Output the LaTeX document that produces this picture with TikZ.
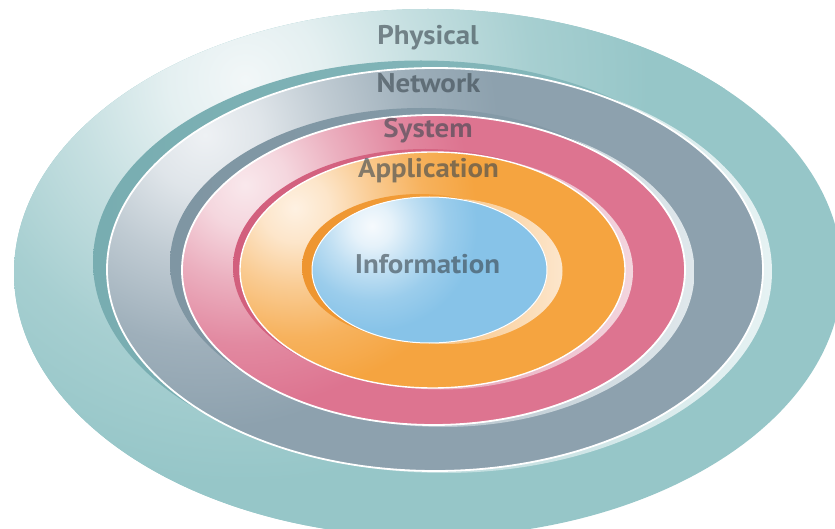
\documentclass[tikz,border=0pt]{standalone}
\usepackage{fontspec}
\setmainfont{PT Sans}
\newfontfamily\labelfont{PT Sans}[FakeStretch=1.07]
\definecolor{physbase}{HTML}{96C6C8}
\definecolor{physhi}{HTML}{F2F7F8}
\definecolor{physdark}{HTML}{78ADB1}
\definecolor{physlight}{HTML}{E6F2F3}
\definecolor{netbase}{HTML}{8DA1AE}
\definecolor{nethi}{HTML}{EEF1F4}
\definecolor{netdark}{HTML}{7F96A3}
\definecolor{netlight}{HTML}{E0E8EC}
\definecolor{sysbase}{HTML}{DD7490}
\definecolor{syshi}{HTML}{F9E8EC}
\definecolor{sysdark}{HTML}{D25F7D}
\definecolor{syslight}{HTML}{F3D6DE}
\definecolor{appbase}{HTML}{F5A440}
\definecolor{apphi}{HTML}{FEF1E2}
\definecolor{appdark}{HTML}{EE9530}
\definecolor{applight}{HTML}{FCE6CC}
\definecolor{infobase}{HTML}{87C3E8}
\definecolor{infohi}{HTML}{F6FAFD}
\definecolor{labelgray}{HTML}{3C4850}
% soft highlight: bright core that falls off into the layer colour
% (the shaded circle's rim sits at 25bp)
\colorlet{hicol}{white}
\colorlet{basecol}{gray}
\pgfdeclareradialshading[hicol,basecol]{glow}{\pgfpoint{0bp}{0bp}}{%
  color(0bp)=(hicol); color(4bp)=(hicol!85!basecol); color(9bp)=(hicol!52!basecol);
  color(15bp)=(hicol!18!basecol); color(21bp)=(basecol); color(50bp)=(basecol)}
\begin{document}
\begin{tikzpicture}[x=1pt, y=-1pt,
  layerlabel/.style={font=\labelfont\fontsize{27}{30}\selectfont\bfseries, text=labelgray,
    text opacity=0.62, anchor=base, inner sep=0pt},
  rim/.style={draw=white, line width=1.8pt}]
\useasboundingbox (0,0) rectangle (835,529);

% ---- Physical: outer disc ----
\fill[physbase] (428,273) ellipse [x radius=414, y radius=264];
\begin{scope}
  \clip (428,273) ellipse [x radius=414, y radius=264];
  \colorlet{hicol}{physhi}\colorlet{basecol}{physbase}
  \shade[shading=glow] (245,80) circle [radius=480];
\end{scope}

% ---- Network disc with its shadow and glow ----
\shade[left color=physbase, right color=physlight] (444,271.5) ellipse [x radius=328, y radius=201.5];
\shade[left color=physdark, right color=physdark!45!physbase] (421,262) ellipse [x radius=328, y radius=201.5];
\fill[netbase] (435,269.5) ellipse [x radius=328, y radius=201.5];
\begin{scope}
  \clip (435,269.5) ellipse [x radius=328, y radius=201.5];
  \colorlet{hicol}{nethi}\colorlet{basecol}{netbase}
  \shade[shading=glow] (205,135) circle [radius=350];
\end{scope}
\draw[rim] (435,269.5) ellipse [x radius=328, y radius=201.5];

% ---- System disc ----
\shade[left color=netbase, right color=netlight] (443,272) ellipse [x radius=251.5, y radius=155];
\shade[left color=netdark, right color=netdark!45!netbase] (421.5,263) ellipse [x radius=251.5, y radius=155];
\fill[sysbase] (433.5,270) ellipse [x radius=251.5, y radius=155];
\begin{scope}
  \clip (433.5,270) ellipse [x radius=251.5, y radius=155];
  \colorlet{hicol}{syshi}\colorlet{basecol}{sysbase}
  \shade[shading=glow] (245,185) circle [radius=265];
\end{scope}
\draw[rim] (433.5,270) ellipse [x radius=251.5, y radius=155];

% ---- Application disc ----
\shade[left color=sysbase, right color=syslight] (440.5,271.5) ellipse [x radius=192.5, y radius=118];
\shade[left color=sysdark, right color=sysdark!40!sysbase] (425.5,267) ellipse [x radius=192.5, y radius=118];
\fill[appbase] (432.5,270) ellipse [x radius=192.5, y radius=118];
\begin{scope}
  \clip (432.5,270) ellipse [x radius=192.5, y radius=118];
  \colorlet{hicol}{apphi}\colorlet{basecol}{appbase}
  \shade[shading=glow] (295,208) circle [radius=215];
\end{scope}
\draw[rim, line width=1.4pt] (432.5,270) ellipse [x radius=192.5, y radius=118];

% ---- Information core ----
\shade[left color=appbase, right color=applight] (445,271) ellipse [x radius=117.5, y radius=73];
\shade[left color=appdark, right color=appbase] (419.5,267) ellipse [x radius=117.5, y radius=73];
\fill[infobase] (429.5,270) ellipse [x radius=117.5, y radius=73];
\begin{scope}
  \clip (429.5,270) ellipse [x radius=117.5, y radius=73];
  \colorlet{hicol}{infohi}\colorlet{basecol}{infobase}
  \shade[shading=glow] (372,226) circle [radius=125];
\end{scope}
\draw[draw=white, line width=1pt] (429.5,270) ellipse [x radius=117.5, y radius=73];

% ---- Layer names ----
\node[layerlabel] (physical)    at (428,45)    {Physical};
\node[layerlabel] (network)     at (428.5,93)  {Network};
\node[layerlabel] (system)      at (428,138)   {System};
\node[layerlabel] (application) at (428.5,178) {Application};
\node[layerlabel] (information) at (427.5,274) {Information};
\end{tikzpicture}
\end{document}
